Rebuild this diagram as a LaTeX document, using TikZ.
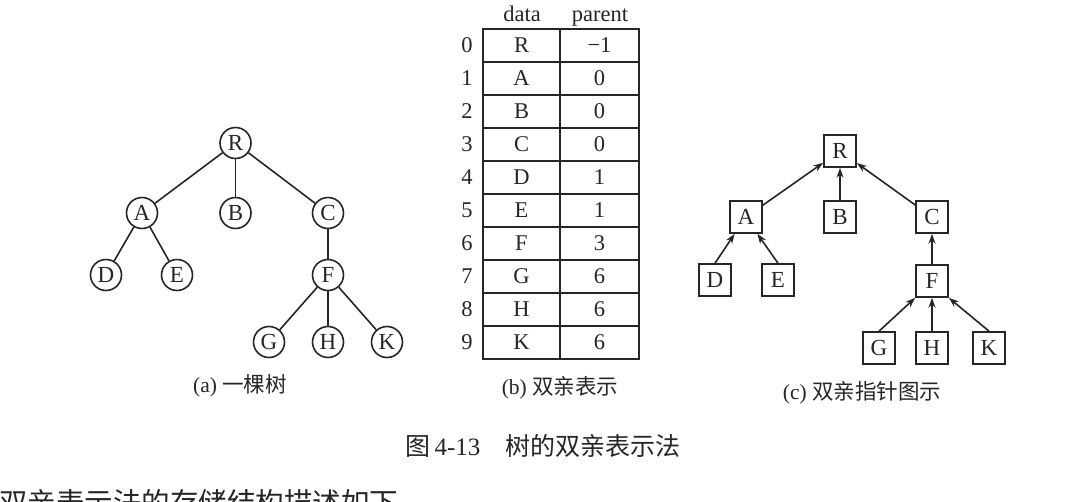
\documentclass[tikz,border=0pt]{standalone}
\usepackage{fontspec}
\setmainfont{Liberation Serif}
\newfontfamily\cjk{Noto Sans CJK SC}
\usetikzlibrary{arrows.meta,calc}
\definecolor{ink}{HTML}{262626}
\tikzset{
  lbl/.style={font=\fontsize{22.5}{26}\selectfont, text=ink, inner sep=0pt},
  cnode/.style={circle, draw=ink, line width=1.6pt, minimum size=31pt, inner sep=0pt, font=\fontsize{23}{26}\selectfont, text=ink},
  bnode/.style={rectangle, draw=ink, line width=1.6pt, minimum size=32pt, inner sep=0pt, font=\fontsize{23}{26}\selectfont, text=ink},
  tedge/.style={draw=ink, line width=1.6pt},
  ptr/.style={draw=ink, line width=1.6pt, -{Stealth[length=10pt,width=7pt]}},
  captxt/.style={font=\fontsize{21.5}{24}\selectfont, text=ink, inner sep=0pt},
}
\begin{document}
\begin{tikzpicture}[x=1pt,y=-1pt]
\useasboundingbox (0,0) rectangle (1066,501);
\fill[white] (0,0) rectangle (1066,501);
\clip (0,0) rectangle (1066,501);

% (a) tree
\node[cnode] (aR) at (235.5,143) {R};
\node[cnode] (aA) at (142,213) {A};
\node[cnode] (aB) at (235.5,213) {B};
\node[cnode] (aC) at (328,213) {C};
\node[cnode] (aD) at (106,275) {D};
\node[cnode] (aE) at (177,275) {E};
\node[cnode] (aF) at (328,275) {F};
\node[cnode] (aG) at (269,342) {G};
\node[cnode] (aH) at (328,342) {H};
\node[cnode] (aK) at (387,342) {K};
\draw[tedge] (aR) -- (aA);
\draw[tedge] (aR) -- (aB);
\draw[tedge] (aR) -- (aC);
\draw[tedge] (aA) -- (aD);
\draw[tedge] (aA) -- (aE);
\draw[tedge] (aC) -- (aF);
\draw[tedge] (aF) -- (aG);
\draw[tedge] (aF) -- (aH);
\draw[tedge] (aF) -- (aK);
\node[captxt] (capa) at (240,386) {(a) {\cjk 一棵树}};

% (b) table
\node[lbl, anchor=base] (hdata) at (522,21) {data};
\node[lbl, anchor=base] (hpar) at (600,21) {parent};
\draw[tedge] (483,29) rectangle (639,359);
\draw[tedge] (560,29) -- (560,359);
\foreach \i in {1,...,9} {
  \draw[tedge] (483,29+33*\i) -- (639,29+33*\i);
}
\foreach \i/\d/\p in {0/R/{−1},1/A/0,2/B/0,3/C/0,4/D/1,5/E/1,6/F/3,7/G/6,8/H/6,9/K/6} {
  \node[lbl] (idx\i) at (467,45.5+33*\i) {\i};
  \node[lbl] (dat\i) at (521.5,45.5+33*\i) {\d};
  \node[lbl] (par\i) at (599.5,45.5+33*\i) {\p};
}
\node[captxt] (capb) at (560,388) {(b) {\cjk 双亲表示}};

% (c) parent pointer tree
\node[bnode] (cR) at (840,151) {R};
\node[bnode] (cA) at (746,217) {A};
\node[bnode] (cB) at (840,217) {B};
\node[bnode] (cC) at (932,217) {C};
\node[bnode] (cD) at (715,280) {D};
\node[bnode] (cE) at (778,280) {E};
\node[bnode] (cF) at (932,281) {F};
\node[bnode] (cG) at (879,348) {G};
\node[bnode] (cH) at (932,348) {H};
\node[bnode] (cK) at (989,348) {K};
\draw[ptr] (cA) -- (cR);
\draw[ptr] (cB) -- (cR);
\draw[ptr] (cC) -- (cR);
\draw[ptr] (cD.north) -- (cA.-124);
\draw[ptr] (cE.north) -- (cA.-56);
\draw[ptr] (cF) -- (cC);
\draw[ptr] (cG.north) -- (cF.south west);
\draw[ptr] (cH) -- (cF);
\draw[ptr] (cK.north) -- (cF.south east);
\node[captxt] (capc) at (862,393) {(c) {\cjk 双亲指针图示}};

% figure caption
\node[font=\fontsize{25}{28}\selectfont, text=ink, inner sep=0pt] (fig) at (543,446) {{\cjk 图}\,4-13\hspace{1em}{\cjk 树的双亲表示法}};
% cut-off following text (cut by the page edge, as in the reference)
\node[font=\fontsize{28.5}{32}\selectfont, text=ink, inner sep=0pt, anchor=west] (body) at (-1,503) {\cjk 双亲表示法的存储结构描述如下};
\end{tikzpicture}
\end{document}
